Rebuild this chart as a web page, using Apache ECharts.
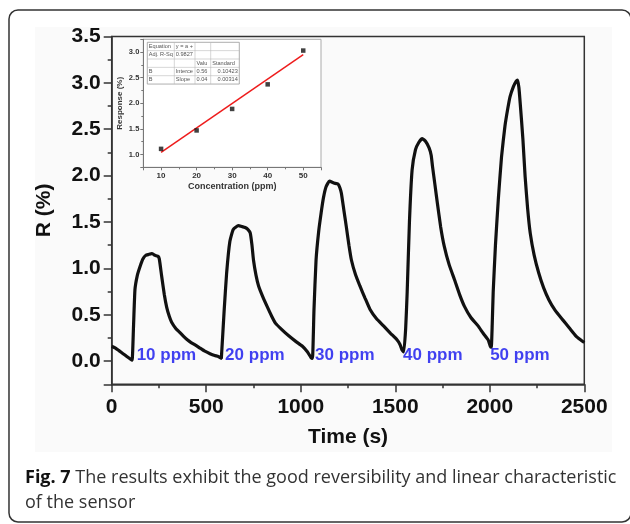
<!DOCTYPE html>
<html><head><meta charset="utf-8">
<script src="https://cdn.jsdelivr.net/npm/echarts@6/dist/echarts.min.js"></script>
<style>html,body{margin:0;padding:0;background:#fff}#c{width:630px;height:524px}</style>
</head><body><div id="c"></div>
<script>
// ---- data ----
const timeS = [0,20,40,60,80,100,108,115,123,135,150,165,180,195,212,230,245,252,264,278,291,305,317,340,360,379,400,420,445,467,490,520,545,564,580,
  583,595,608,625,643,670,690,706,720,733,742,750,763,777,800,822,845,866,900,938,975,1009,1035,1054,1062,
  1070,1081,1095,1108,1120,1134,1152,1175,1197,1207,1215,1228,1241,1255,1268,1290,1313,1340,1366,1400,1438,1475,1509,1525,1536,1545,
  1555,1563,1575,1589,1607,1625,1643,1660,1679,1690,1697,1710,1723,1740,1759,1785,1813,1840,1866,1900,1938,1965,1991,2003,2008,
  2013,2018,2030,2045,2062,2080,2095,2107,2125,2140,2147,2154,2161,2175,2187,2200,2214,2235,2259,2285,2313,2345,2384,2420,2456,2480,2500];
const responsePct = [0.16,0.14,0.11,0.08,0.05,0.02,0.01,0.35,0.77,0.92,1.02,1.10,1.14,1.15,1.16,1.14,1.13,1.10,0.92,0.72,0.58,0.48,0.42,0.35,0.31,0.27,0.23,0.20,0.17,0.14,0.11,0.08,0.06,0.05,0.03,
  0.03,0.55,0.95,1.29,1.42,1.46,1.45,1.44,1.42,1.38,1.25,1.09,0.93,0.81,0.69,0.59,0.49,0.41,0.34,0.27,0.21,0.16,0.10,0.04,0.03,
  0.55,1.09,1.40,1.60,1.76,1.88,1.94,1.92,1.91,1.87,1.81,1.63,1.45,1.25,1.09,0.93,0.81,0.68,0.56,0.46,0.38,0.30,0.23,0.18,0.12,0.10,
  0.35,0.74,1.50,2.06,2.28,2.36,2.40,2.37,2.30,2.22,2.10,1.90,1.70,1.45,1.24,1.04,0.88,0.72,0.59,0.47,0.38,0.30,0.23,0.16,0.15,
  0.40,0.74,1.25,1.74,2.20,2.53,2.72,2.85,2.96,3.02,3.03,2.95,2.78,2.40,1.99,1.65,1.38,1.14,0.95,0.79,0.66,0.55,0.45,0.36,0.27,0.23,0.20];
const ppmLabels = ['10 ppm','20 ppm','30 ppm','40 ppm','50 ppm'];
const ppmLabelTime = [132, 600, 1076, 1541, 2002];
const ppmLabelValue = [0.06, 0.06, 0.06, 0.06, 0.06];
const insetConc = [10, 20, 30, 40, 50];
const insetResp = [1.11, 1.47, 1.89, 2.37, 3.03];
const fitConc = [10, 50];
const fitResp = [1.04, 2.95];
const tableRows = [
  ['Equation','y = a +','',''],
  ['Adj. R-Sq','0.9827','',''],
  ['','','Valu','Standard'],
  ['B','Interce','0.56','0.10423'],
  ['B','Slope','0.04','0.00314']
];
const captionBold = 'Fig. 7';
const captionLines = ['The results exhibit the good reversibility and linear characteristic', 'of the sensor'];

// ---- helpers ----
const isMult = (v, s) => Math.abs(v / s - Math.round(v / s)) < 1e-6;
const AF = '"Liberation Sans", Arial, sans-serif';

// table graphic
const colX = [147.3, 174.3, 195, 210.7, 239.3];
const rowH = 8.35, tabTop = 42.3;
const tableEls = [];
tableEls.push({type:'rect', z:20, shape:{x:colX[0], y:tabTop, width:colX[4]-colX[0], height:rowH*tableRows.length}, style:{fill:'#fff', stroke:'#999', lineWidth:0.8}});
for (let i = 1; i < tableRows.length; i++) {
  tableEls.push({type:'line', z:21, shape:{x1:colX[0], y1:tabTop+i*rowH, x2:colX[4], y2:tabTop+i*rowH}, style:{stroke:'#bbb', lineWidth:0.6}});
}
for (let j = 1; j < 4; j++) {
  tableEls.push({type:'line', z:21, shape:{x1:colX[j], y1:tabTop, x2:colX[j], y2:tabTop+rowH*tableRows.length}, style:{stroke:'#bbb', lineWidth:0.6}});
}
tableRows.forEach((row, i) => row.forEach((txt, j) => {
  if (!txt) return;
  const right = (j === 3 && i > 2);
  tableEls.push({type:'text', z:22, x: right ? colX[j+1]-1.5 : colX[j]+1.5, y: tabTop + i*rowH + rowH/2,
    style:{text: txt, fill:'#555', fontSize:5.6, fontFamily:AF, align: right ? 'right' : 'left', verticalAlign:'middle'}});
}));

const chart = echarts.init(document.getElementById('c'), null, {renderer:'canvas'});
chart.setOption({
  animation: false,
  backgroundColor: '#fff',
  grid: [
    {left:111.7, right:45.7, top:36.5, bottom:139.7, show:true, borderColor:'#333', borderWidth:1.5, backgroundColor:'transparent'},
    {left:143.3, top:39.3, width:177.7, height:128, show:true, borderColor:'#aaa', borderWidth:1, backgroundColor:'#fff', z:5}
  ],
  xAxis: [
    {type:'value', gridIndex:0, min:0, max:2500, interval:500,
     name:'Time (s)', nameLocation:'middle', nameGap:42,
     nameTextStyle:{fontFamily:AF, fontWeight:'bold', fontSize:21, color:'#111'},
     axisLine:{show:true, onZero:false, lineStyle:{color:'#333', width:1.5}},
     axisTick:{show:true, inside:false, length:8, lineStyle:{color:'#333', width:1.5}},
     minorTick:{show:true, splitNumber:2, length:4, lineStyle:{color:'#333', width:1.5}},
     axisLabel:{fontFamily:AF, fontWeight:'bold', fontSize:21, color:'#111', margin:12, formatter: v => String(v)},
     splitLine:{show:false}},
    {type:'value', gridIndex:1, min:5, max:55, splitNumber:5, z:6,
     name:'Concentration (ppm)', nameLocation:'middle', nameGap:15,
     nameTextStyle:{fontFamily:AF, fontWeight:'bold', fontSize:9, color:'#333'},
     axisLine:{show:true, onZero:false, lineStyle:{color:'#777', width:1}},
     axisTick:{show:true, length:3, lineStyle:{color:'#777'}},
     minorTick:{show:true, splitNumber:2, length:2, lineStyle:{color:'#777'}},
     axisLabel:{fontFamily:AF, fontWeight:'bold', fontSize:8, color:'#333', margin:4,
       formatter: v => isMult(v, 10) ? String(v) : ''},
     splitLine:{show:false}}
  ],
  yAxis: [
    {type:'value', gridIndex:0, min:-0.25, max:3.5, splitNumber:7,
     name:'R (%)', nameLocation:'middle', nameGap:57, nameRotate:90,
     nameTextStyle:{fontFamily:AF, fontWeight:'bold', fontSize:21, color:'#111'},
     axisLine:{show:true, onZero:false, lineStyle:{color:'#333', width:1.5}},
     axisTick:{show:true, inside:false, length:8, lineStyle:{color:'#333', width:1.5}},
     minorTick:{show:true, splitNumber:2, length:4, lineStyle:{color:'#333', width:1.5}},
     axisLabel:{fontFamily:AF, fontWeight:'bold', fontSize:21, color:'#111', margin:11,
       formatter: v => isMult(v, 0.5) ? v.toFixed(1) : ''},
     splitLine:{show:false}},
    {type:'value', gridIndex:1, min:0.75, max:3.25, splitNumber:5, z:6,
     name:'Response (%)', nameLocation:'middle', nameGap:20, nameRotate:90,
     nameTextStyle:{fontFamily:AF, fontWeight:'bold', fontSize:8, color:'#333'},
     axisLine:{show:true, onZero:false, lineStyle:{color:'#777', width:1}},
     axisTick:{show:true, length:3, lineStyle:{color:'#777'}},
     minorTick:{show:true, splitNumber:2, length:2, lineStyle:{color:'#777'}},
     axisLabel:{fontFamily:AF, fontWeight:'bold', fontSize:7.5, color:'#333', margin:4,
       formatter: v => isMult(v, 0.5) ? v.toFixed(1) : ''},
     splitLine:{show:false}}
  ],
  series: [
    {type:'line', xAxisIndex:0, yAxisIndex:0, data: timeS.map((t,i)=>[t, responsePct[i]]),
     symbol:'none', smooth:0.15, lineStyle:{color:'#111', width:3.2}, z:3},
    {type:'scatter', xAxisIndex:0, yAxisIndex:0, symbolSize:0,
     data: ppmLabels.map((s,i)=>({value:[ppmLabelTime[i], ppmLabelValue[i]], name:s})),
     label:{show:true, position:'right', distance:0, formatter: p => p.name,
       fontFamily:AF, fontWeight:'bold', fontSize:17, color:'#1212ee'}, z:4},
    {type:'line', xAxisIndex:1, yAxisIndex:1, data: fitConc.map((c,i)=>[c, fitResp[i]]),
     symbol:'none', lineStyle:{color:'#ee1c1c', width:1.5}, z:7},
    {type:'scatter', xAxisIndex:1, yAxisIndex:1, data: insetConc.map((c,i)=>[c, insetResp[i]]),
     symbol:'rect', symbolSize:4.5, itemStyle:{color:'#111'}, z:8}
  ],
  graphic: [
    {type:'rect', z:-10, silent:true, shape:{x:35, y:27, width:577, height:425}, style:{fill:'#fafafa'}},
    {type:'rect', z:-9, silent:true, shape:{x:9, y:10, width:622, height:512, r:9}, style:{fill:'none', stroke:'#333', lineWidth:1.5}},
    {type:'group', z:20, children: tableEls},
    {type:'text', z:10, left:25, top:465,
     style:{text:'{b|' + captionBold + '} ' + captionLines.join('\n'),
       fontFamily:'"Open Sans"', fontSize:18, fill:'#333', lineHeight:25,
       rich:{b:{fontFamily:'"Open Sans"', fontWeight:'bold', fontSize:18, fill:'#111', lineHeight:25}}}}
  ]
});
</script></body></html>
